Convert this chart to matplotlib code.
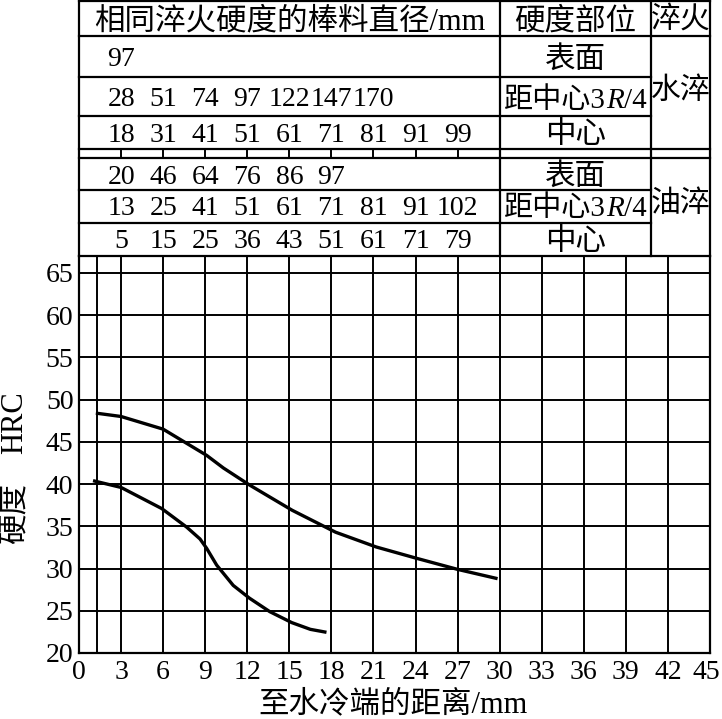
import matplotlib
matplotlib.use('Agg')
import matplotlib.pyplot as plt
from matplotlib.transforms import IdentityTransform, ScaledTranslation

plt.rcParams['font.family'] = ['Liberation Serif', 'Noto Sans CJK SC']

# ---------------- data ----------------
upper_x = [1.2, 3, 6, 7.45, 9.1, 10.3, 12.15, 15.2, 18.3, 21.2, 24.1, 27.0, 29.85]
upper_y = [48.4, 48.0, 46.5, 45.05, 43.4, 41.9, 39.9, 36.9, 34.3, 32.55, 31.2, 29.9, 28.8]
lower_x = [1.0, 3, 5.9, 7.68, 8.63, 9.1, 9.82, 11.0, 12.15, 13.6, 15.17, 16.5, 17.65]
lower_y = [40.4, 39.6, 37.1, 34.9, 33.5, 32.4, 30.4, 28.0, 26.5, 24.9, 23.6, 22.8, 22.45]

x_ticks = list(range(0, 46, 3))
y_ticks = list(range(20, 66, 5))

water_surface = [97]
water_3r4 = [28, 51, 74, 97, 122, 147, 170]
water_center = [18, 31, 41, 51, 61, 71, 81, 91, 99]
oil_surface = [20, 46, 64, 76, 86, 97]
oil_3r4 = [13, 25, 41, 51, 61, 71, 81, 91, 102]
oil_center = [5, 15, 25, 36, 43, 51, 61, 71, 79]

header_main = '相同淬火硬度的棒料直径/mm'
header_pos = '硬度部位'
header_q = '淬火'
pos_surface = '表面'
pos_3r4 = [('距中心3', 'normal'), ('R', 'italic'), ('/4', 'normal')]
pos_center = '中心'
quench_labels = ['水淬', '油淬']
xlabel = '至水冷端的距离/mm'

# ---------------- figure ----------------
W, H = 722, 719
fig = plt.figure(figsize=(W / 100, H / 100), dpi=100)
L, R, B, T = 79, 710, 653, 256
ax = fig.add_axes([L / W, (H - B) / H, (R - L) / W, (B - T) / H])
ax.set_xlim(0, 45)
ax.set_ylim(20, 67)

lw_grid = 1.4
for gx in [1.25] + x_ticks[1:-1]:
    ax.axvline(gx, color='black', lw=lw_grid, zorder=1)
for gy in y_ticks[1:]:
    ax.axhline(gy, color='black', lw=lw_grid, zorder=1)
for s in ax.spines.values():
    s.set_linewidth(1.6)
    s.set_color('black')

ax.set_xticks(x_ticks)
ax.set_yticks(y_ticks)
ax.tick_params(length=0, labelsize=20, colors='black')
ax.tick_params(axis='y', pad=4)
ax.tick_params(axis='x', pad=5)
last = ax.get_xticklabels()[-1]
last.set_transform(last.get_transform() + ScaledTranslation(-4 / 100, 0, fig.dpi_scale_trans))

ax.plot(upper_x, upper_y, color='black', lw=2.4, solid_joinstyle='round',
        solid_capstyle='butt', zorder=3)
ax.plot(lower_x, lower_y, color='black', lw=2.4, solid_joinstyle='round',
        solid_capstyle='butt', zorder=3)

# ---------------- table ----------------
tax = fig.add_axes([L / W, (H - T) / H, (R - L) / W, T / H])
tax.set_xlim(0, 45)
tax.set_ylim(T, 0)
tax.axis('off')

c1 = 30.0
c2 = 40.8
lk = dict(color='black', lw=1.6, clip_on=False, solid_capstyle='projecting')
for yy in [1, 36, 149, 158]:
    tax.plot([0, 45], [yy, yy], **lk)
for yy in [77, 116, 190, 223]:
    tax.plot([0, c2], [yy, yy], **lk)
for xx in [0, c1, c2, 45]:
    tax.plot([xx, xx], [1, T], **lk)
for xx in x_ticks[1:10]:
    tax.plot([xx, xx], [149, 158], color='black', lw=1.4, clip_on=False)

fs_num = 20
fs_cjk = 22
tax.text(15, 18 + 11, header_main, ha='center', va='baseline', fontsize=fs_cjk)
tax.text((c1 + c2) / 2, 18 + 11, header_pos, ha='center', va='baseline', fontsize=fs_cjk)
tax.text((c2 + 45) / 2, 18 + 11, header_q, ha='center', va='baseline', fontsize=21.5)

rows = [water_surface, water_3r4, water_center, oil_surface, oil_3r4, oil_center]
row_centers = [57, 97, 132, 174, 205.5, 239]
for vals, yc in zip(rows, row_centers):
    for i, v in enumerate(vals):
        tax.text(3 * (i + 1), yc + 9.5, str(v), ha='center', va='baseline',
                 fontsize=fs_num)

renderer = fig.canvas.get_renderer()


def rich_text(xc, yb, parts, fontsize):
    xd, yd = tax.transData.transform((xc, yb))
    items = []
    for s, st in parts:
        t = fig.text(0, 0, s, fontsize=fontsize, style=st, ha='left',
                     va='baseline', transform=IdentityTransform())
        w = t.get_window_extent(renderer).width
        items.append((t, w))
    total = sum(w for _, w in items)
    x = xd - total / 2
    for t, w in items:
        t.set_position((x, yd))
        x += w


xmid = (c1 + c2) / 2
for k, yc in enumerate(row_centers):
    if k % 3 == 0:
        tax.text(xmid, yc + 11, pos_surface, ha='center', va='baseline', fontsize=fs_cjk)
    elif k % 3 == 1:
        rich_text(xmid, yc + 11, pos_3r4, 21)
    else:
        tax.text(xmid, yc + 11, pos_center, ha='center', va='baseline', fontsize=fs_cjk)

tax.text((c2 + 45) / 2, 88 + 11, quench_labels[0], ha='center', va='baseline',
         fontsize=21.5)
tax.text((c2 + 45) / 2, 201 + 11, quench_labels[1], ha='center', va='baseline',
         fontsize=21.5)

# ---------------- axis labels ----------------
fig.text(393 / W, (H - 712) / H, xlabel, ha='center', va='baseline', fontsize=fs_cjk)
fig.text(15 / W, (H - 423) / H, 'HRC', rotation=90, ha='center', va='center',
         fontsize=22)
fig.text(15 / W, (H - 513) / H, '硬度', rotation=90, ha='center', va='center',
         fontsize=fs_cjk)

fig.savefig('out.png', dpi=100, facecolor='white')
